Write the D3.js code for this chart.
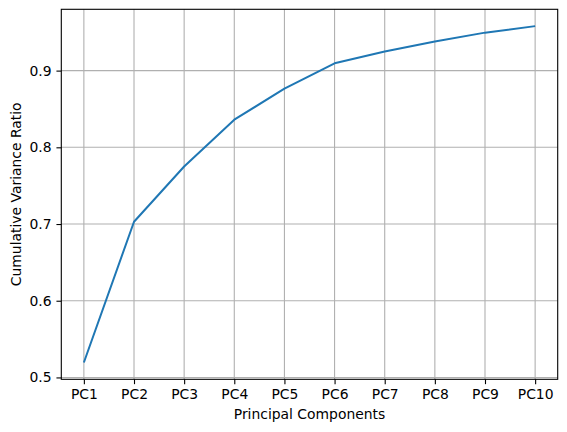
<!DOCTYPE html>
<html>
<head>
<meta charset="utf-8">
<script src="https://cdn.jsdelivr.net/npm/d3@7"></script>
<style>
  html, body { margin: 0; padding: 0; background: #fff; }
  svg { display: block; font-family: "DejaVu Sans", sans-serif; }
</style>
</head>
<body>
<svg id="chart" width="567" height="432"></svg>
<script>
const categories = ["PC1","PC2","PC3","PC4","PC5","PC6","PC7","PC8","PC9","PC10"];
const cumulativeVariance = [0.5195, 0.703, 0.775, 0.836, 0.8765, 0.9095, 0.925, 0.938, 0.9495, 0.958];
const yTicks = [0.5, 0.6, 0.7, 0.8, 0.9];
const xLabel = "Principal Components";
const yLabel = "Cumulative Variance Ratio";

const svg = d3.select("#chart");
const L = 61.3, R = 557.7, T = 9.3, B = 379.3;
const fs = 13.9, tickLen = 4.86, pad = 4.86;

const idx = categories.map((d, i) => i);
const n = categories.length;
const x = d3.scaleLinear().domain([-0.45, n - 1 + 0.45]).range([L, R]);
const ymin = d3.min(cumulativeVariance), ymax = d3.max(cumulativeVariance);
const m = (ymax - ymin) * 0.05;
const y = d3.scaleLinear().domain([ymin - m, ymax + m]).range([B, T]);

// grid
const g = svg.append("g");
g.selectAll("line.vg").data(idx).join("line")
  .attr("x1", d => x(d)).attr("x2", d => x(d))
  .attr("y1", T).attr("y2", B)
  .attr("stroke", "#b0b0b0").attr("stroke-width", 1.1);
g.selectAll("line.hg").data(yTicks).join("line")
  .attr("x1", L).attr("x2", R)
  .attr("y1", d => y(d)).attr("y2", d => y(d))
  .attr("stroke", "#b0b0b0").attr("stroke-width", 1.1);

// line
const line = d3.line().x((d, i) => x(i)).y(d => y(d));
svg.append("path").datum(cumulativeVariance)
  .attr("d", line).attr("fill", "none")
  .attr("stroke", "#1f77b4").attr("stroke-width", 2.0)
  .attr("stroke-linejoin", "round").attr("stroke-linecap", "butt");

// spines
svg.append("rect").attr("x", L).attr("y", T).attr("width", R - L).attr("height", B - T)
  .attr("fill", "none").attr("stroke", "#000").attr("stroke-width", 1.1);

// x axis
const xa = svg.append("g").attr("transform", `translate(0,${B})`)
  .call(d3.axisBottom(x).tickValues(idx).tickFormat(i => categories[i]).tickSize(tickLen).tickPadding(pad));
xa.select(".domain").remove();
xa.selectAll("line").attr("stroke", "#000").attr("stroke-width", 1.1);
xa.selectAll("text").attr("font-size", fs).attr("fill", "#000").attr("font-family", "DejaVu Sans");

// y axis
const ya = svg.append("g").attr("transform", `translate(${L},0)`)
  .call(d3.axisLeft(y).tickValues(yTicks).tickFormat(d3.format(".1f")).tickSize(tickLen).tickPadding(pad));
ya.select(".domain").remove();
ya.selectAll("line").attr("stroke", "#000").attr("stroke-width", 1.1);
ya.selectAll("text").attr("font-size", fs).attr("fill", "#000").attr("font-family", "DejaVu Sans");

svg.append("text").attr("x", (L + R) / 2).attr("y", 419)
  .attr("text-anchor", "middle").attr("font-size", fs).text(xLabel);
svg.append("text").attr("transform", `translate(21,${(T + B) / 2}) rotate(-90)`)
  .attr("text-anchor", "middle").attr("font-size", fs).text(yLabel);
</script>
</body>
</html>
